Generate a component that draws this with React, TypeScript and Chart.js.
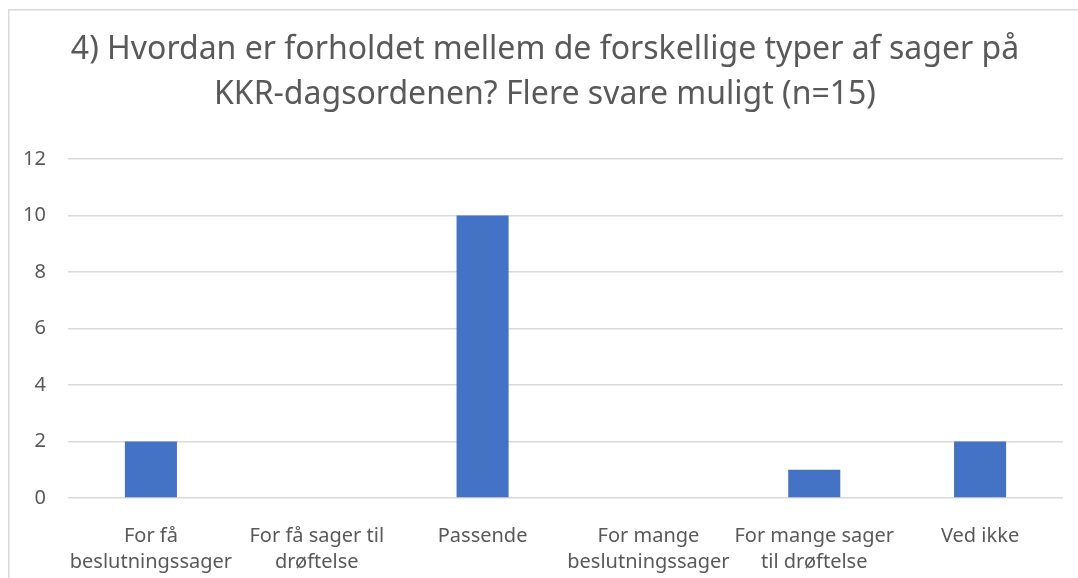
import React, { useEffect, useRef } from "react";
import { Chart, registerables } from "chart.js";

Chart.register(...registerables);

const titleLines = [
  "4) Hvordan er forholdet mellem de forskellige typer af sager på",
  "KKR-dagsordenen? Flere svare muligt (n=15)",
];
const categories: string[][] = [
  ["For få", "beslutningssager"],
  ["For få sager til", "drøftelse"],
  ["Passende"],
  ["For mange", "beslutningssager"],
  ["For mange sager", "til drøftelse"],
  ["Ved ikke"],
];
const values = [2, 0, 10, 0, 1, 2];
const yTicks = [0, 2, 4, 6, 8, 10, 12];

const FONT = "'Noto Sans', 'Open Sans', sans-serif";
const TEXT = "#595959";
const GRID = "#d9d9d9";

export default function App() {
  const ref = useRef<HTMLCanvasElement | null>(null);
  useEffect(() => {
    if (!ref.current) return;
    const frame = {
      id: "frame",
      beforeDraw(chart: any) {
        const ctx = chart.ctx;
        ctx.save();
        ctx.fillStyle = "#ffffff";
        ctx.fillRect(0, 0, chart.width, chart.height);
        ctx.strokeStyle = GRID;
        ctx.lineWidth = 1.5;
        ctx.strokeRect(8.75, 9.75, 2000, 2000);
        ctx.restore();
      },
      afterDraw(chart: any) {
        const ctx = chart.ctx;
        ctx.save();
        ctx.fillStyle = TEXT;
        ctx.font = `32px ${FONT}`;
        ctx.textAlign = "center";
        ctx.textBaseline = "middle";
        ctx.fillText(titleLines[0], 545, 50);
        ctx.fillText(titleLines[1], 545, 95);
        ctx.restore();
      },
    };
    const chart = new Chart(ref.current, {
      type: "bar",
      data: {
        labels: categories,
        datasets: [
          {
            data: values,
            backgroundColor: "#4472C4",
            barPercentage: 0.314,
            categoryPercentage: 1,
          },
        ],
      },
      options: {
        animation: false,
        responsive: false,
        devicePixelRatio: 1,
        layout: { padding: { top: 159, right: 15, left: 0, bottom: 0 } },
        plugins: {
          legend: { display: false },
          title: { display: false },
          tooltip: { enabled: false },
        },
        scales: {
          x: {
            grid: { display: false },
            border: { display: false },
            ticks: {
              color: TEXT,
              font: { family: FONT, size: 20, lineHeight: 1.3 },
              padding: 17,
              maxRotation: 0,
              autoSkip: false,
            },
            afterFit(scale: any) {
              scale.height = 80;
            },
          },
          y: {
            min: 0,
            max: 12,
            afterBuildTicks(scale: any) {
              scale.ticks = yTicks.map((v) => ({ value: v }));
            },
            grid: { color: GRID, lineWidth: 1.5, drawTicks: false },
            border: { display: false },
            ticks: {
              color: TEXT,
              font: { family: FONT, size: 20 },
              padding: 22,
            },
            afterFit(scale: any) {
              scale.width = 68;
            },
          },
        },
      },
      plugins: [frame],
    });
    return () => chart.destroy();
  }, []);
  return (
    <div style={{ position: "absolute", left: 0, top: 0, width: 1078, height: 578 }}>
      <canvas ref={ref} width={1078} height={578} style={{ display: "block" }} />
    </div>
  );
}
